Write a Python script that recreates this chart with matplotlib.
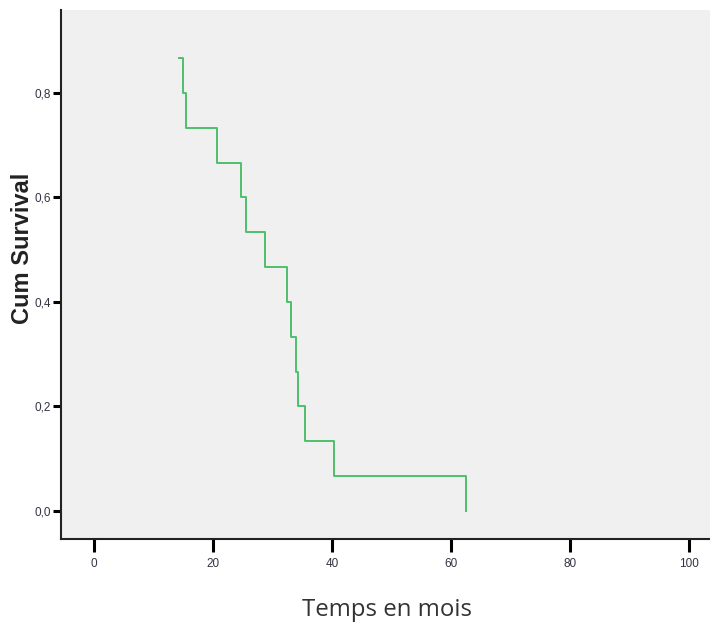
import matplotlib
matplotlib.use('Agg')
import matplotlib.pyplot as plt
from matplotlib.ticker import FuncFormatter

# Kaplan-Meier estimate: event times (months) and survival after each event
temps = [14.3, 15.0, 15.5, 20.7, 24.7, 25.5, 28.7, 32.4, 33.1, 33.9, 34.3, 35.5, 40.3, 62.5]
survie = [13/15, 12/15, 11/15, 10/15, 9/15, 8/15, 7/15, 6/15, 5/15, 4/15, 3/15, 2/15, 1/15, 0.0]
xticks = [0, 20, 40, 60, 80, 100]
yticks = [0.0, 0.2, 0.4, 0.6, 0.8]

fig = plt.figure(figsize=(7.1, 6.26), dpi=100)
ax = fig.add_axes([61/710, 87/626, 649/710, 529/626])
ax.set_facecolor('#f0f0f0')

ax.step(temps, survie, where='post', color='#4fbf6c', lw=1.4)

ax.set_xlim(-5.5, 103.5)
ax.set_ylim(-0.054, 0.959)
ax.set_xticks(xticks)
ax.set_yticks(yticks)
ax.yaxis.set_major_formatter(FuncFormatter(lambda v, p: f'{v:.1f}'.replace('.', ',')))

for s in ['top', 'right']:
	ax.spines[s].set_visible(False)
for s in ['left', 'bottom']:
	ax.spines[s].set_linewidth(1.5)
	ax.spines[s].set_color('#222222')

tick_font = ['Liberation Sans Narrow', 'Liberation Sans', 'DejaVu Sans']
ax.tick_params(axis='y', length=6, width=2.2, pad=1, labelsize=8.5, labelcolor='#333344')
ax.tick_params(axis='x', length=9, width=2.2, pad=5, labelsize=8.5, labelcolor='#333344')
for lab in ax.get_xticklabels() + ax.get_yticklabels():
	lab.set_family(tick_font)

ax.set_ylabel('Cum Survival', fontsize=17, fontweight='bold', family=['Liberation Sans', 'DejaVu Sans'], color='#222222')
ax.yaxis.set_label_coords(-0.041, 0.55)
ax.set_xlabel('Temps en mois', fontsize=17.3, family=['Open Sans', 'DejaVu Sans'], color='#333333')
ax.xaxis.set_label_coords(0.503, -0.112)

fig.savefig('out.png', dpi=100, facecolor='white')
